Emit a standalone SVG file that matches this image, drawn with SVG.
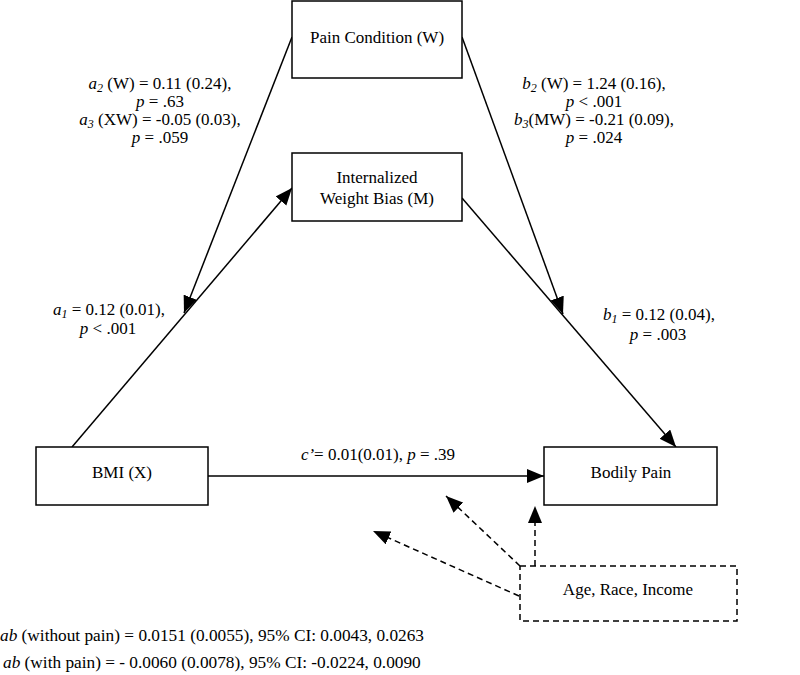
<svg xmlns="http://www.w3.org/2000/svg" width="800" height="675" viewBox="0 0 800 675">
<style>
text{font-family:"Liberation Serif","Times New Roman",serif;font-size:17px;fill:#000}
.c{text-anchor:middle}
.i{font-style:italic}
.s{font-size:12px;font-style:italic}
.ft{font-size:17.3px}
.box{fill:#fff;stroke:#000;stroke-width:1.5}
.dbox{fill:#fff;stroke:#000;stroke-width:1.5;stroke-dasharray:6 4}
.ln{stroke:#000;stroke-width:1.5;fill:none;marker-end:url(#ah)}
.dl{stroke:#000;stroke-width:1.5;fill:none;stroke-dasharray:6 4;marker-end:url(#ah)}
</style>
<defs>
<marker id="ah" markerUnits="userSpaceOnUse" markerWidth="18" markerHeight="15" refX="17" refY="7" orient="auto">
<path d="M0,0 L17,7 L0,14 z" fill="#000"/>
</marker>
</defs>
<rect width="800" height="675" fill="#fff"/>
<g id="connectors">
<line class="ln" x1="72" y1="447" x2="292" y2="188"/>
<line class="ln" x1="292" y1="37" x2="184" y2="313"/>
<line class="ln" x1="462" y1="37" x2="563" y2="314"/>
<line class="ln" x1="462" y1="198" x2="676" y2="447"/>
<line class="ln" x1="208" y1="476" x2="544" y2="476"/>
<line class="dl" x1="535" y1="566" x2="535" y2="506"/>
<line class="dl" x1="520" y1="566" x2="446" y2="496"/>
<line class="dl" x1="519" y1="596" x2="373" y2="531"/>
</g>
<g id="pain-condition">
<rect class="box" x="292" y="1" width="170" height="77"/>
<text class="c" x="377" y="43">Pain Condition (W)</text>
</g>
<g id="weight-bias">
<rect class="box" x="292" y="153" width="170" height="68"/>
<text class="c" x="377" y="183">Internalized</text>
<text class="c" x="377" y="204">Weight Bias (M)</text>
</g>
<g id="bmi">
<rect class="box" x="36" y="447" width="172" height="58"/>
<text class="c" x="122" y="478">BMI (X)</text>
</g>
<g id="bodily-pain">
<rect class="box" x="544" y="447" width="173" height="58"/>
<text class="c" x="631" y="478">Bodily Pain</text>
</g>
<g id="covariates">
<rect class="dbox" x="520" y="566" width="217" height="55"/>
<text class="c" x="628" y="595">Age, Race, Income</text>
</g>
<g id="labels">
<text class="c" x="160" y="89"><tspan class="i">a</tspan><tspan class="s" dy="3">2</tspan><tspan dy="-3"> (W) = 0.11 (0.24),</tspan></text>
<text class="c" x="160" y="107"><tspan class="i">p</tspan> = .63</text>
<text class="c" x="160" y="125"><tspan class="i">a</tspan><tspan class="s" dy="3">3</tspan><tspan dy="-3"> (XW) = -0.05 (0.03),</tspan></text>
<text class="c" x="160" y="143"><tspan class="i">p</tspan> = .059</text>
<text class="c" x="594" y="89"><tspan class="i">b</tspan><tspan class="s" dy="3">2</tspan><tspan dy="-3"> (W) = 1.24 (0.16),</tspan></text>
<text class="c" x="594" y="107"><tspan class="i">p</tspan> &lt; .001</text>
<text class="c" x="594" y="125"><tspan class="i">b</tspan><tspan class="s" dy="3">3</tspan><tspan dy="-3">(MW) = -0.21 (0.09),</tspan></text>
<text class="c" x="594" y="143"><tspan class="i">p</tspan> = .024</text>
<text class="c" x="109" y="315"><tspan class="i">a</tspan><tspan class="s" dy="3">1</tspan><tspan dy="-3"> = 0.12 (0.01),</tspan></text>
<text class="c" x="108" y="334"><tspan class="i">p</tspan> &lt; .001</text>
<text class="c" x="659" y="320"><tspan class="i">b</tspan><tspan class="s" dy="3">1</tspan><tspan dy="-3"> = 0.12 (0.04),</tspan></text>
<text class="c" x="658" y="340"><tspan class="i">p</tspan> = .003</text>
<text class="c" x="378" y="460"><tspan class="i">c’</tspan>= 0.01(0.01), <tspan class="i">p</tspan> = .39</text>
<text class="ft" x="0" y="641"><tspan class="i">ab</tspan> (without pain) = 0.0151 (0.0055), 95% CI: 0.0043, 0.0263</text>
<text class="ft" x="3" y="668"><tspan class="i">ab</tspan> (with pain) = - 0.0060 (0.0078), 95% CI: -0.0224, 0.0090</text>
</g>
</svg>
